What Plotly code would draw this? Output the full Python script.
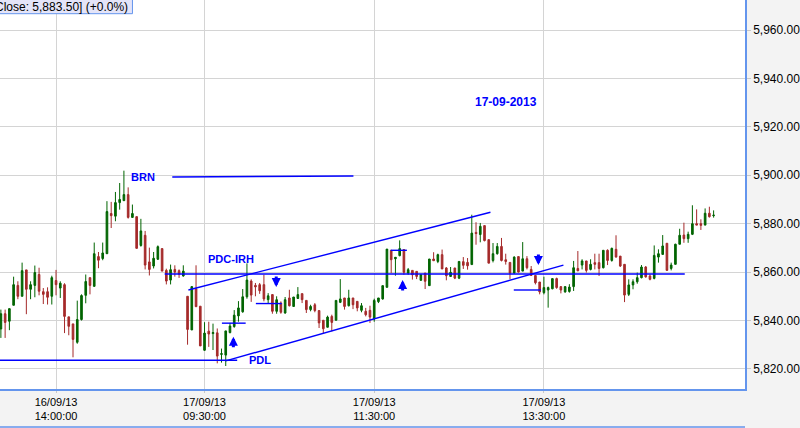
import plotly.graph_objects as go
import pandas as pd

# ---- time categories (3-minute bars) ----
day1 = pd.date_range("2013-09-16 13:21", "2013-09-16 15:30", freq="3min")
day2 = pd.date_range("2013-09-17 09:18", "2013-09-17 15:30", freq="3min")
times = [t.strftime("%d/%m/%y %H:%M:%S") for t in list(day1) + list(day2)]

open_ = [5836.5, 5842.8, 5839.7, 5846.3, 5854.5, 5850.0, 5860.9, 5852.9, 5854.5, 5859.0,
         5851.9, 5851.9, 5850.0, 5856.5, 5853.4, 5854.8, 5841.5, 5838.6, 5831.0, 5840.4,
         5850.4, 5857.7, 5854.1, 5866.4, 5865.6, 5867.6, 5884.2, 5883.1, 5888.7, 5889.5,
         5892.0, 5882.6, 5882.9, 5871.0, 5875.2, 5864.2, 5862.5, 5865.3, 5869.7, 5860.7,
         5856.7, 5861.1, 5860.6, 5858.4, 5850.0, 5836.1, 5853.1, 5845.9, 5827.7, 5835.6,
         5834.6, 5834.9, 5826.0, 5825.7, 5835.0, 5837.5, 5841.9, 5843.6, 5849.8, 5856.3,
         5854.5, 5854.8, 5854.8, 5848.6, 5850.7, 5843.8, 5847.2, 5843.1, 5849.3, 5845.8,
         5849.1, 5851.1, 5848.3, 5844.5, 5846.5, 5844.1, 5840.1, 5837.2, 5841.7, 5840.1,
         5847.5, 5849.3, 5846.1, 5849.3, 5847.9, 5844.2, 5843.8, 5844.2, 5840.6, 5847.8,
         5848.9, 5853.7, 5869.0, 5865.5, 5866.8, 5869.3, 5859.6, 5860.7, 5860.3, 5856.6,
         5859.6, 5854.4, 5865.4, 5864.4, 5867.2, 5861.7, 5858.2, 5861.7, 5857.5, 5864.3,
         5864.0, 5863.1, 5876.4, 5875.5, 5879.2, 5873.4, 5864.8, 5867.6, 5870.6, 5865.1,
         5864.0, 5859.6, 5866.4, 5860.4, 5865.5, 5861.1, 5858.6, 5855.9, 5851.5, 5852.6,
         5853.1, 5857.3, 5854.0, 5851.8, 5852.0, 5854.0, 5861.5, 5862.9, 5864.6, 5861.1,
         5863.9, 5863.9, 5861.8, 5869.0, 5864.8, 5869.4, 5866.6, 5863.2, 5850.8, 5854.7,
         5856.0, 5857.7, 5862.1, 5858.4, 5857.4, 5866.2, 5867.3, 5871.9, 5861.5, 5863.2,
         5871.5, 5875.3, 5873.8, 5875.6, 5880.0, 5880.0, 5879.4, 5884.3, 5883.3]
high = [5844.5, 5844.5, 5844.9, 5858.1, 5856.2, 5863.9, 5860.9, 5856.2, 5862.7, 5861.8,
        5853.4, 5853.7, 5858.5, 5860.9, 5856.2, 5855.4, 5841.5, 5838.6, 5848.2, 5850.8,
        5859.0, 5857.7, 5872.2, 5868.3, 5872.2, 5889.3, 5889.0, 5893.1, 5896.8, 5901.9,
        5895.0, 5887.9, 5883.0, 5882.0, 5877.0, 5870.1, 5868.3, 5871.0, 5869.7, 5861.4,
        5863.1, 5862.8, 5861.1, 5862.8, 5850.0, 5854.0, 5862.8, 5845.9, 5839.3, 5839.5,
        5838.7, 5836.7, 5828.4, 5835.7, 5839.0, 5844.3, 5848.0, 5853.0, 5863.6, 5857.0,
        5855.5, 5855.5, 5858.9, 5851.3, 5850.7, 5850.0, 5847.9, 5849.7, 5852.7, 5849.7,
        5853.8, 5851.1, 5848.3, 5846.5, 5847.2, 5844.1, 5840.1, 5842.0, 5842.4, 5848.3,
        5857.1, 5849.3, 5852.7, 5849.3, 5847.9, 5847.2, 5845.2, 5846.1, 5849.0, 5849.3,
        5854.4, 5869.5, 5869.0, 5866.1, 5873.1, 5869.3, 5861.7, 5860.7, 5860.3, 5859.2,
        5859.6, 5865.4, 5868.2, 5867.6, 5869.3, 5862.1, 5862.1, 5861.7, 5864.4, 5866.2,
        5865.8, 5883.7, 5880.6, 5880.3, 5879.2, 5873.4, 5872.0, 5872.0, 5874.1, 5867.6,
        5864.0, 5866.5, 5866.4, 5872.4, 5866.6, 5862.5, 5858.6, 5855.9, 5858.1, 5854.0,
        5857.3, 5857.7, 5854.0, 5854.0, 5855.0, 5864.6, 5868.7, 5865.3, 5864.6, 5865.3,
        5867.6, 5867.6, 5869.0, 5869.4, 5870.1, 5875.2, 5866.6, 5863.2, 5857.0, 5857.0,
        5859.8, 5862.9, 5862.5, 5859.1, 5871.0, 5869.4, 5875.3, 5871.9, 5863.9, 5871.7,
        5877.9, 5880.4, 5876.7, 5887.6, 5885.9, 5881.8, 5886.3, 5887.0, 5885.5]
low = [5832.8, 5832.8, 5836.0, 5846.3, 5848.8, 5850.0, 5842.6, 5848.8, 5849.6, 5850.4,
       5846.8, 5846.6, 5846.6, 5850.4, 5849.3, 5834.8, 5833.9, 5824.8, 5830.4, 5840.0,
       5847.1, 5850.8, 5854.1, 5861.6, 5864.9, 5867.6, 5878.2, 5881.0, 5885.8, 5889.5,
       5882.1, 5882.4, 5869.8, 5870.5, 5861.1, 5858.6, 5861.5, 5865.0, 5860.4, 5854.9,
       5854.9, 5858.1, 5857.6, 5858.1, 5830.0, 5836.1, 5845.7, 5829.5, 5827.5, 5829.1,
       5827.8, 5822.3, 5822.6, 5821.2, 5834.7, 5837.0, 5839.5, 5843.2, 5849.0, 5847.7,
       5850.0, 5851.0, 5847.9, 5846.9, 5842.8, 5842.8, 5842.8, 5842.8, 5845.8, 5845.8,
       5848.9, 5847.2, 5843.1, 5843.8, 5843.4, 5836.9, 5834.8, 5837.2, 5835.5, 5840.1,
       5847.2, 5844.5, 5845.8, 5844.7, 5843.8, 5843.4, 5841.7, 5839.0, 5839.5, 5847.2,
       5848.6, 5853.7, 5859.6, 5858.5, 5866.5, 5858.9, 5858.9, 5856.9, 5857.1, 5856.4,
       5853.0, 5854.4, 5864.7, 5863.7, 5861.3, 5856.6, 5858.0, 5857.1, 5857.1, 5861.3,
       5861.0, 5863.1, 5871.3, 5872.3, 5872.7, 5863.7, 5864.0, 5867.2, 5864.4, 5863.1,
       5857.1, 5859.3, 5859.8, 5860.4, 5861.1, 5858.4, 5854.9, 5850.8, 5850.8, 5845.3,
       5852.9, 5853.1, 5851.2, 5851.5, 5851.5, 5852.2, 5860.5, 5861.1, 5859.8, 5860.7,
       5861.1, 5858.4, 5861.5, 5862.9, 5864.3, 5866.0, 5862.1, 5847.6, 5850.1, 5852.9,
       5855.2, 5857.4, 5857.7, 5856.6, 5857.0, 5863.9, 5867.3, 5860.7, 5860.7, 5863.2,
       5871.5, 5872.1, 5872.1, 5875.3, 5879.4, 5877.4, 5879.4, 5882.5, 5882.5]
close = [5842.8, 5839.2, 5844.9, 5854.8, 5850.0, 5860.6, 5852.9, 5854.8, 5859.8, 5852.1,
         5850.8, 5849.6, 5857.7, 5854.8, 5855.4, 5841.7, 5837.6, 5832.2, 5840.4, 5850.3,
         5856.1, 5854.5, 5867.6, 5864.9, 5867.9, 5885.0, 5883.3, 5888.7, 5890.0, 5892.0,
         5882.6, 5884.2, 5869.8, 5877.0, 5862.9, 5861.1, 5865.7, 5870.5, 5860.4, 5856.3,
         5861.0, 5860.0, 5859.1, 5860.4, 5836.3, 5854.0, 5845.7, 5829.5, 5834.8, 5834.4,
         5835.0, 5825.3, 5826.3, 5835.7, 5837.7, 5842.2, 5845.2, 5849.8, 5856.7, 5850.5,
         5853.9, 5852.3, 5848.9, 5850.2, 5843.8, 5848.6, 5843.4, 5848.6, 5846.1, 5849.7,
         5850.7, 5848.6, 5844.5, 5845.8, 5844.1, 5839.0, 5836.6, 5841.4, 5839.2, 5848.3,
         5848.9, 5845.8, 5849.3, 5846.5, 5845.2, 5846.1, 5842.4, 5841.4, 5848.3, 5849.3,
         5854.4, 5869.5, 5865.1, 5866.1, 5869.7, 5859.9, 5861.0, 5858.9, 5858.2, 5858.9,
         5856.2, 5865.4, 5864.7, 5867.2, 5861.3, 5858.5, 5859.9, 5857.5, 5864.4, 5862.8,
         5862.6, 5876.1, 5875.9, 5878.9, 5873.0, 5863.7, 5867.6, 5870.6, 5864.8, 5864.4,
         5859.6, 5866.2, 5860.0, 5865.5, 5861.8, 5858.6, 5855.6, 5851.8, 5853.6, 5853.6,
         5857.3, 5853.6, 5852.6, 5854.0, 5853.8, 5861.8, 5860.5, 5864.6, 5860.7, 5863.2,
         5863.2, 5861.5, 5869.0, 5864.8, 5869.8, 5866.2, 5862.5, 5850.5, 5854.7, 5856.0,
         5857.7, 5862.1, 5858.0, 5857.0, 5866.9, 5867.6, 5870.8, 5860.7, 5862.9, 5871.5,
         5875.2, 5873.8, 5875.6, 5880.0, 5879.4, 5879.3, 5884.3, 5882.9, 5883.5]

# ---- axis ticks ----
y_ticks = [5820, 5840, 5860, 5880, 5900, 5920, 5940, 5960]
x_tick_cats = ["16/09/13 14:00:00", "17/09/13 09:30:00", "17/09/13 11:30:00", "17/09/13 13:30:00"]
x_tick_text = [c.replace(" ", "<br>") for c in x_tick_cats]

# ---- drawn study lines: (x0 idx, y0, x1 idx, y1) in bar-index / price units ----
study_lines = [
    (-0.3, 5823.6, 55.7, 5823.6),    # PDL
    (40.4, 5899.3, 83.1, 5899.7),    # BRN
    (38.6, 5859.2, 161.2, 5859.2),   # PDC-IRH
    (44.2, 5852.6, 115.4, 5884.7),   # channel upper
    (53.0, 5823.3, 132.6, 5862.9),   # channel lower
    (52.1, 5838.9, 57.7, 5838.9),
    (60.1, 5847.0, 66.2, 5847.0),
    (91.9, 5869.0, 95.7, 5869.0),
    (120.9, 5852.6, 127.3, 5852.6),
]
# arrows: (x idx, head price, direction)
arrows = [(54.8, 5833.3, "up"), (64.9, 5853.8, "down"), (94.7, 5856.7, "up"), (126.7, 5862.9, "down")]
labels = [("BRN", 33.4, 5899.3), ("PDC-IRH", 54.3, 5865.6), ("PDL", 61.1, 5823.7), ("17-09-2013", 119.0, 5930.3)]

GREEN = "#006400"
RED = "#a52a2a"
BLUE = "#0000ff"
AXBLUE = "#6495ed"

fig = go.Figure()
fig.add_trace(go.Candlestick(
    x=times, open=open_, high=high, low=low, close=close,
    increasing=dict(line=dict(color=GREEN, width=1), fillcolor=GREEN),
    decreasing=dict(line=dict(color=RED, width=1), fillcolor=RED),
    whiskerwidth=0, showlegend=False, hoverinfo="skip",
))

shapes = []
for x0, y0, x1, y1 in study_lines:
    shapes.append(dict(type="line", xref="x", yref="y", x0=x0, y0=y0, x1=x1, y1=y1,
                       line=dict(color=BLUE, width=1.4), layer="above"))
# close-price box at top-left
shapes.append(dict(type="rect", xref="paper", yref="paper", x0=-0.01, x1=133/748,
                   y0=1-13.7/389, y1=1.01, fillcolor="#e4e4f8", line=dict(color=AXBLUE, width=1), layer="above"))
# bottom border of time axis area
shapes.append(dict(type="line", xref="paper", yref="paper", x0=0, x1=1, y0=-38/389, y1=-38/389,
                   line=dict(color=AXBLUE, width=1.5)))

annotations = []
for x, y, d in arrows:
    annotations.append(dict(x=x, y=y, xref="x", yref="y", text="", showarrow=True,
                            ax=0, ay=12 if d == "up" else -12, arrowhead=2, arrowsize=0.6,
                            arrowwidth=3, arrowcolor=BLUE, standoff=0))
for t, x, y in labels:
    annotations.append(dict(x=x, y=y, xref="x", yref="y", text="<b>%s</b>" % t, showarrow=False,
                            font=dict(family="Liberation Sans, Arial, sans-serif", size=12 if t[0].isdigit() else 11, color=BLUE)))
annotations.append(dict(x=131/748, y=1.0, xref="paper", yref="paper", xanchor="right", yanchor="top",
                        text="Close: 5,883.50] (+0.0%)", showarrow=False, yshift=2,
                        font=dict(family="Liberation Sans, Arial, sans-serif", size=12, color="#000000")))

fig.update_layout(
    width=800, height=428,
    margin=dict(l=0, r=52, t=0, b=39),
    paper_bgcolor="#f3f3f3", plot_bgcolor="#ffffff",
    boxgap=0.45,
    shapes=shapes, annotations=annotations,
    font=dict(family="Liberation Sans, Arial, sans-serif", color="#000000"),
    xaxis=dict(type="category", range=[-0.21, 175.4], rangeslider=dict(visible=False),
               tickmode="array", tickvals=x_tick_cats, ticktext=x_tick_text,
               showgrid=True, gridcolor="#d4d4d4", gridwidth=1,
               ticks="outside", ticklen=2, tickcolor="#c8c8c8",
               showline=True, linecolor=AXBLUE, linewidth=1.5,
               tickfont=dict(size=11), zeroline=False),
    yaxis=dict(side="right", range=[5811.7, 5972.4], tickmode="array", tickvals=y_ticks,
               tickformat=",.2f", showgrid=True, gridcolor="#d4d4d4", gridwidth=1,
               ticks="outside", ticklen=4, tickcolor="#c8c8c8",
               showline=True, linecolor=AXBLUE, linewidth=1.5,
               tickfont=dict(size=12), zeroline=False),
)

fig.write_html("out.html", config={"displayModeBar": False},
               post_script="document.body.style.margin='0px';document.body.style.overflow='hidden';")
